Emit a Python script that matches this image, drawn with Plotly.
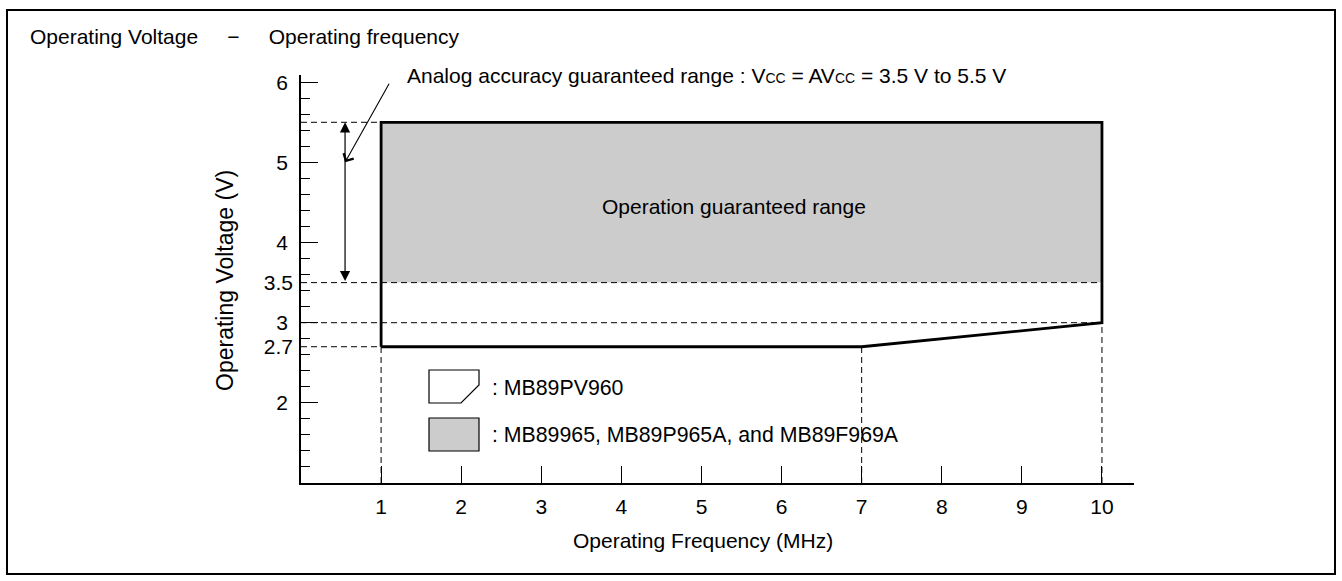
import plotly.graph_objects as go

# ---------------- data ----------------
outline_freq = [1, 1, 10, 10, 7, 1]          # MB89PV960 operating region outline
outline_volt = [2.7, 5.5, 5.5, 3.0, 2.7, 2.7]
guaranteed_freq = [1, 10]                      # shaded region (MB89965 etc.)
guaranteed_volt = [3.5, 5.5]
analog_volt = [3.5, 5.5]                       # analog accuracy range
analog_marker_freq = 0.55
analog_pointer_freq = [0.55, 1.11]
analog_pointer_volt = [5.0, 6.0]
x_ticks = [1, 2, 3, 4, 5, 6, 7, 8, 9, 10]
y_ticks = [2, 3, 4, 5, 6]
y_extra_ticks = [2.7, 3.5]
h_guide_volt = [5.5, 3.5, 3.0, 2.7]
h_guide_end = [1, 10, 10, 1]
v_guide_freq = [1, 7, 10]
v_guide_end = [2.7, 2.7, 3.0]

title_text = ("Operating Voltage\u00a0\u00a0\u00a0\u00a0\u00a0\u2212"
              "\u00a0\u00a0\u00a0\u00a0\u00a0Operating frequency")
x_title = "Operating Frequency (MHz)"
y_title = "Operating Voltage (V)"
region_label = "Operation guaranteed range"
analog_label = ("Analog accuracy guaranteed range : V<span style='font-size:14px'>CC</span> = "
                "AV<span style='font-size:14px'>CC</span> = 3.5 V to 5.5 V")
legend_labels = [": MB89PV960", ": MB89965, MB89P965A, and MB89F969A"]

# ---------------- layout constants ----------------
W, H = 1342, 581
L, R, T, B = 301, 208, 75, 98
Y_RANGE = [1, 6.09]
X_RANGE = [0, 10.4]
FONT = "Liberation Sans, Arial, sans-serif"
FS = 21


def px_x(p):
    return (p - L) / (W - L - R)


def px_y(p):
    return (H - B - p) / (H - T - B)


fig = go.Figure()

# shaded guaranteed range
fig.add_trace(go.Scatter(
    x=[guaranteed_freq[0], guaranteed_freq[1], guaranteed_freq[1], guaranteed_freq[0], guaranteed_freq[0]],
    y=[guaranteed_volt[0], guaranteed_volt[0], guaranteed_volt[1], guaranteed_volt[1], guaranteed_volt[0]],
    fill="toself", fillcolor="#cccccc", line=dict(width=0), mode="lines",
    hoverinfo="skip", showlegend=False))

# dashed guide lines
for v, e in zip(h_guide_volt, h_guide_end):
    fig.add_trace(go.Scatter(x=[0, e], y=[v, v], mode="lines",
                             line=dict(color="black", width=1, dash="6px,4px"),
                             hoverinfo="skip", showlegend=False, cliponaxis=False))
for f, e in zip(v_guide_freq, v_guide_end):
    fig.add_trace(go.Scatter(x=[f, f], y=[1, e], mode="lines",
                             line=dict(color="black", width=1, dash="6px,4px"),
                             hoverinfo="skip", showlegend=False, cliponaxis=False))

# outline
fig.add_trace(go.Scatter(x=outline_freq, y=outline_volt, mode="lines",
                         line=dict(color="black", width=2.8),
                         hoverinfo="skip", showlegend=False, cliponaxis=False))

# invisible trace to carry the secondary y-axis labels
fig.add_trace(go.Scatter(x=[0, 0], y=y_extra_ticks, yaxis="y2", mode="markers",
                         marker=dict(opacity=0), hoverinfo="skip", showlegend=False))

annotations = []
# double arrow for analog range
annotations.append(dict(x=analog_marker_freq, y=analog_volt[1], ax=analog_marker_freq, ay=analog_volt[0],
                        xref="x", yref="y", axref="x", ayref="y", text="", showarrow=True,
                        arrowhead=2, startarrowhead=2, arrowside="end+start",
                        arrowsize=1.7, startarrowsize=1.7, arrowwidth=1.2, arrowcolor="black"))
# pointer from label
annotations.append(dict(x=analog_pointer_freq[0], y=analog_pointer_volt[0],
                        ax=analog_pointer_freq[1], ay=analog_pointer_volt[1],
                        xref="x", yref="y", axref="x", ayref="y", text="", showarrow=True,
                        arrowhead=4, arrowsize=2.0, arrowwidth=1.1, arrowcolor="black"))
# texts
annotations.append(dict(x=px_x(405), y=px_y(75), xref="paper", yref="paper", xanchor="left",
                        yanchor="middle", text=analog_label, showarrow=False,
                        font=dict(size=FS, color="black", family=FONT)))
annotations.append(dict(x=px_x(734), y=px_y(207), xref="paper", yref="paper", xanchor="center",
                        yanchor="middle", text=region_label, showarrow=False,
                        font=dict(size=FS, color="black", family=FONT)))
annotations.append(dict(x=px_x(28), y=px_y(36.5), xref="paper", yref="paper", xanchor="left",
                        yanchor="middle", text=title_text, showarrow=False,
                        font=dict(size=FS, color="black", family=FONT)))
annotations.append(dict(x=px_x(703), y=px_y(540), xref="paper", yref="paper", xanchor="center",
                        yanchor="middle", text=x_title, showarrow=False,
                        font=dict(size=FS, color="black", family=FONT)))
annotations.append(dict(x=px_x(225), y=px_y(281), xref="paper", yref="paper", xanchor="center",
                        yanchor="middle", text=y_title, showarrow=False, textangle=-90,
                        font=dict(size=23, color="black", family=FONT)))
for lbl, yy in zip(legend_labels, [388, 435]):
    annotations.append(dict(x=px_x(490), y=px_y(yy), xref="paper", yref="paper", xanchor="left",
                            yanchor="middle", text=lbl, showarrow=False,
                            font=dict(size=21.3, color="black", family=FONT)))

shapes = []
# outer frame
shapes.append(dict(type="rect", xref="paper", yref="paper",
                   x0=px_x(7), x1=px_x(1335), y0=px_y(10), y1=px_y(574),
                   line=dict(color="black", width=2), layer="below"))
# legend icons
lx0, lx1 = px_x(429), px_x(479)
shapes.append(dict(type="path", xref="paper", yref="paper",
                   path=(f"M {lx0} {px_y(370)} L {lx1} {px_y(370)} L {lx1} {px_y(385)} "
                         f"L {px_x(461)} {px_y(403)} L {lx0} {px_y(403)} Z"),
                   fillcolor="white", line=dict(color="black", width=1.2)))
shapes.append(dict(type="rect", xref="paper", yref="paper",
                   x0=lx0, x1=lx1, y0=px_y(418), y1=px_y(451),
                   fillcolor="#cccccc", line=dict(color="black", width=1.2)))

fig.update_layout(
    width=W, height=H,
    margin=dict(l=L, r=R, t=T, b=B, autoexpand=False),
    paper_bgcolor="white", plot_bgcolor="white",
    font=dict(family=FONT, size=FS, color="black"),
    showlegend=False,
    xaxis=dict(range=X_RANGE, tickvals=x_ticks, ticks="inside", ticklen=17, tickwidth=1.2,
               tickcolor="black", showline=True, linewidth=1.5, linecolor="black",
               showgrid=False, zeroline=False, ticklabelstandoff=4,
               tickfont=dict(size=FS, family=FONT, color="black"), fixedrange=True),
    yaxis=dict(range=Y_RANGE, tickvals=y_ticks, ticks="inside", ticklen=17, tickwidth=1.2,
               tickcolor="black", showline=True, linewidth=1.5, linecolor="black",
               showgrid=False, zeroline=False, ticklabelstandoff=7,
               minor=dict(tickvals=[round(1 + 0.2 * i, 1) for i in range(26)],
                          ticks="inside", ticklen=9, tickwidth=1.2,
                          tickcolor="black", showgrid=False),
               tickfont=dict(size=FS, family=FONT, color="black"), fixedrange=True),
    yaxis2=dict(range=Y_RANGE, overlaying="y", side="left", tickvals=y_extra_ticks,
                ticktext=[str(v) for v in y_extra_ticks], ticks="", showline=False,
                showgrid=False, zeroline=False, ticklabelstandoff=7,
                tickfont=dict(size=FS, family=FONT, color="black"), fixedrange=True),
    annotations=annotations,
    shapes=shapes,
)

fig.write_html("out.html", config={"displayModeBar": False},
               post_script="document.body.style.margin='0';document.body.style.overflow='hidden';")
